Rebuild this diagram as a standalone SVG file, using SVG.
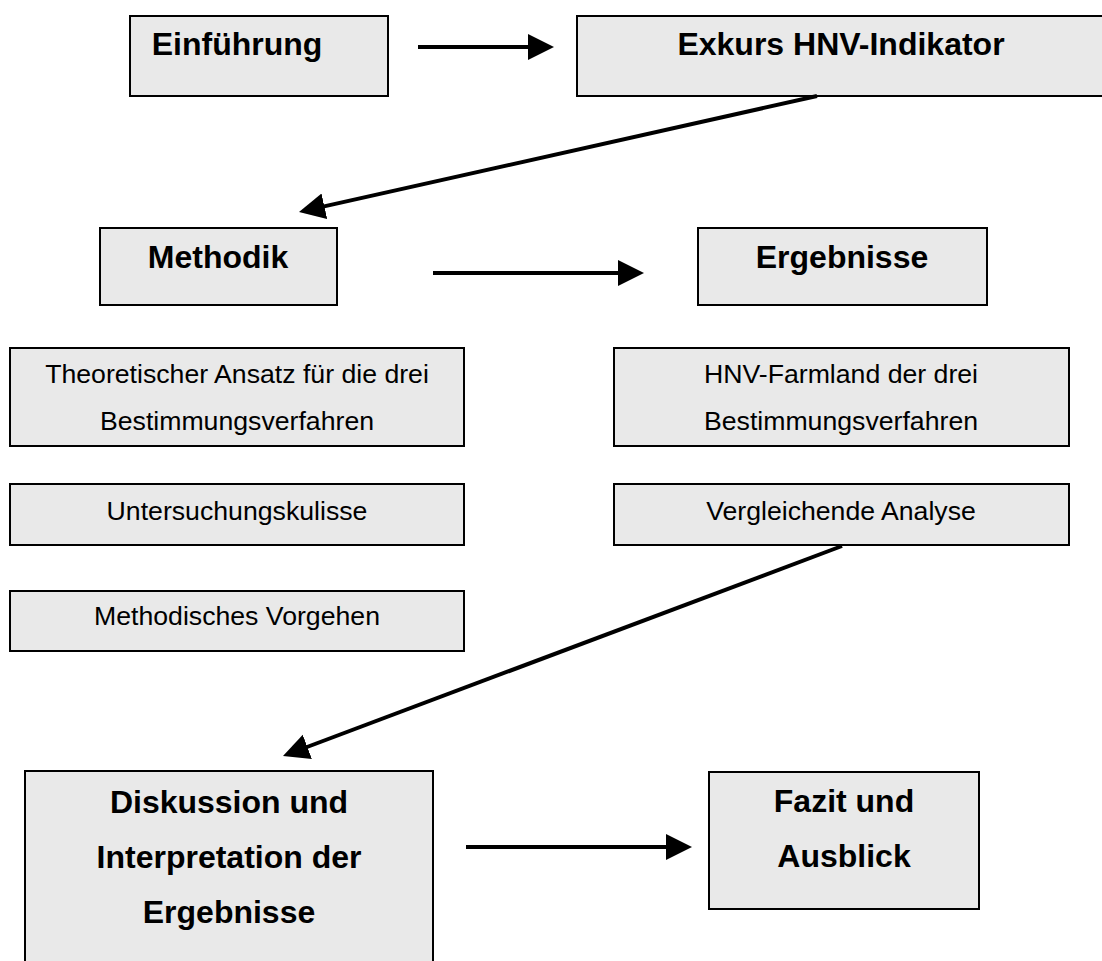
<svg xmlns="http://www.w3.org/2000/svg" width="1102" height="961" viewBox="0 0 1102 961">
<style>
.box{fill:#e9e9e9;stroke:#000;stroke-width:2}
.b{font-family:"Liberation Sans",Arial,sans-serif;font-weight:bold;font-size:32px;fill:#000;text-anchor:middle}
.r{font-family:"Liberation Sans",Arial,sans-serif;font-size:26.67px;fill:#000;text-anchor:middle}
.c{stroke:#000;stroke-width:4;fill:none;marker-end:url(#ah)}
</style>
<defs>
<marker id="ah" markerUnits="userSpaceOnUse" markerWidth="28" markerHeight="28" refX="6" refY="13" orient="auto">
<path d="M0,0 L26,13 L0,26 Z" fill="#000"/>
</marker>
</defs>
<rect width="1102" height="961" fill="#fff"/>
<g id="einfuehrung"><rect class="box" x="130" y="16" width="258" height="80"/><text class="b" x="237" y="55">Einführung</text></g>
<g id="exkurs"><rect class="box" x="577" y="16" width="540" height="80"/><text class="b" x="841" y="55">Exkurs HNV-Indikator</text></g>
<g id="methodik"><rect class="box" x="100" y="228" width="237" height="77"/><text class="b" x="218" y="268">Methodik</text></g>
<g id="ergebnisse"><rect class="box" x="698" y="228" width="289" height="77"/><text class="b" x="842" y="268">Ergebnisse</text></g>
<g id="theorie"><rect class="box" x="10" y="348" width="454" height="98"/><text class="r" x="237" y="383">Theoretischer Ansatz für die drei</text><text class="r" x="237" y="430">Bestimmungsverfahren</text></g>
<g id="kulisse"><rect class="box" x="10" y="484" width="454" height="61"/><text class="r" x="237" y="520">Untersuchungskulisse</text></g>
<g id="vorgehen"><rect class="box" x="10" y="591" width="454" height="60"/><text class="r" x="237" y="625">Methodisches Vorgehen</text></g>
<g id="farmland"><rect class="box" x="614" y="348" width="455" height="98"/><text class="r" x="841" y="383">HNV-Farmland der drei</text><text class="r" x="841" y="430">Bestimmungsverfahren</text></g>
<g id="analyse"><rect class="box" x="614" y="484" width="455" height="61"/><text class="r" x="841" y="520">Vergleichende Analyse</text></g>
<g id="diskussion"><rect class="box" x="25" y="771" width="408" height="210"/><text class="b" x="229" y="813">Diskussion und</text><text class="b" x="229" y="868">Interpretation der</text><text class="b" x="229" y="923">Ergebnisse</text></g>
<g id="fazit"><rect class="box" x="709" y="772" width="270" height="137"/><text class="b" x="844" y="812">Fazit und</text><text class="b" x="844" y="867">Ausblick</text></g>
<g id="connectors">
<line class="c" x1="418" y1="47" x2="534" y2="47"/>
<line class="c" x1="817" y1="96" x2="318.5" y2="207.6"/>
<line class="c" x1="433" y1="273" x2="624" y2="273"/>
<line class="c" x1="842" y1="546" x2="301.7" y2="749"/>
<line class="c" x1="466" y1="847" x2="672" y2="847"/>
</g>
</svg>
